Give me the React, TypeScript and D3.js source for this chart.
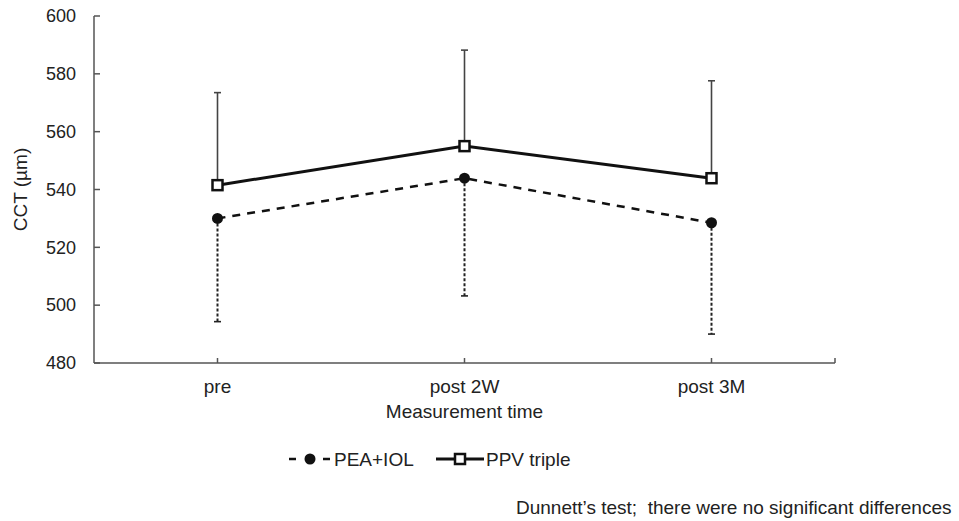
import React, { useEffect, useRef } from 'react'
import * as d3 from 'd3'

const categories = ['pre', 'post 2W', 'post 3M']
const peaMean = [530.0, 543.9, 528.5]
const peaSD = [35.7, 40.7, 38.5]
const ppvMean = [541.5, 555.0, 543.9]
const ppvSD = [32.0, 33.2, 33.7]
const yTicks = [480, 500, 520, 540, 560, 580, 600]

const width = 959
const height = 521
const font = '"Liberation Sans", Arial, sans-serif'
const textColor = '#222'

const App = () => {
  const ref = useRef<SVGSVGElement>(null)

  useEffect(() => {
    const svg = d3.select(ref.current)
    svg.selectAll('*').remove()

    const left = 94
    const right = 835
    const top = 16
    const bottom = 363

    // scales
    const xScale = d3.scaleBand().domain(categories).range([left, right])
    const cx = (i: number) => (xScale(categories[i]) as number) + xScale.bandwidth() / 2
    const yScale = d3.scaleLinear().domain([480, 600]).range([bottom, top])

    // y axis
    svg
      .append('line')
      .attr('x1', left)
      .attr('x2', left)
      .attr('y1', top)
      .attr('y2', bottom)
      .attr('stroke', '#555')
      .attr('stroke-width', 1.5)

    const yAxis = svg.append('g')
    yAxis
      .selectAll('line')
      .data(yTicks)
      .enter()
      .append('line')
      .attr('x1', left)
      .attr('x2', left + 6)
      .attr('y1', (d) => yScale(d))
      .attr('y2', (d) => yScale(d))
      .attr('stroke', '#555')
      .attr('stroke-width', 1.5)
    yAxis
      .selectAll('text')
      .data(yTicks)
      .enter()
      .append('text')
      .text((d) => d)
      .attr('x', 76)
      .attr('y', (d) => yScale(d))
      .attr('dy', '0.35em')
      .attr('text-anchor', 'end')
      .attr('font-family', font)
      .attr('font-size', 18)
      .attr('fill', textColor)

    // x axis
    svg
      .append('line')
      .attr('x1', left)
      .attr('x2', right)
      .attr('y1', bottom)
      .attr('y2', bottom)
      .attr('stroke', '#555')
      .attr('stroke-width', 1.5)

    const xTickPos = [...categories.map((c, i) => cx(i)), right]
    svg
      .append('g')
      .selectAll('line')
      .data(xTickPos)
      .enter()
      .append('line')
      .attr('x1', (d) => d)
      .attr('x2', (d) => d)
      .attr('y1', bottom)
      .attr('y2', bottom - 5)
      .attr('stroke', '#555')
      .attr('stroke-width', 1.5)

    svg
      .append('g')
      .selectAll('text')
      .data(categories)
      .enter()
      .append('text')
      .text((d) => d)
      .attr('x', (d, i) => cx(i))
      .attr('y', 393)
      .attr('text-anchor', 'middle')
      .attr('font-family', font)
      .attr('font-size', 19)
      .attr('fill', textColor)

    // axis titles
    svg
      .append('text')
      .text('Measurement time')
      .attr('x', (left + right) / 2)
      .attr('y', 418)
      .attr('text-anchor', 'middle')
      .attr('font-family', font)
      .attr('font-size', 19)
      .attr('fill', textColor)

    svg
      .append('text')
      .text('CCT (µm)')
      .attr('transform', `translate(27, ${(top + bottom) / 2}) rotate(-90)`)
      .attr('text-anchor', 'middle')
      .attr('font-family', font)
      .attr('font-size', 19)
      .attr('fill', textColor)

    // error bars
    const errorBars = (mean: number[], sd: number[], dir: number, dash: string | null, color: string) => {
      const g = svg.append('g')
      mean.forEach((m, i) => {
        const y0 = yScale(m)
        const y1 = yScale(m + dir * sd[i])
        g.append('line')
          .attr('x1', cx(i))
          .attr('x2', cx(i))
          .attr('y1', y0)
          .attr('y2', y1)
          .attr('stroke', color)
          .attr('stroke-width', dash ? 2 : 1.6)
          .attr('stroke-dasharray', dash)
        g.append('line')
          .attr('x1', cx(i) - 3.5)
          .attr('x2', cx(i) + 3.5)
          .attr('y1', y1)
          .attr('y2', y1)
          .attr('stroke', color)
          .attr('stroke-width', 1.6)
      })
    }
    errorBars(ppvMean, ppvSD, 1, null, '#444')
    errorBars(peaMean, peaSD, -1, '3,2', '#222')

    // lines
    const line = d3
      .line<number>()
      .x((d, i) => cx(i))
      .y((d) => yScale(d))

    svg
      .append('path')
      .datum(peaMean)
      .attr('d', line)
      .attr('fill', 'none')
      .attr('stroke', '#111')
      .attr('stroke-width', 2.5)
      .attr('stroke-dasharray', '8,7')

    svg
      .append('path')
      .datum(ppvMean)
      .attr('d', line)
      .attr('fill', 'none')
      .attr('stroke', '#111')
      .attr('stroke-width', 3)

    // markers
    svg
      .append('g')
      .selectAll('circle')
      .data(peaMean)
      .enter()
      .append('circle')
      .attr('cx', (d, i) => cx(i))
      .attr('cy', (d) => yScale(d))
      .attr('r', 5.5)
      .attr('fill', '#111')

    const sq = 10
    svg
      .append('g')
      .selectAll('rect')
      .data(ppvMean)
      .enter()
      .append('rect')
      .attr('x', (d, i) => cx(i) - sq / 2)
      .attr('y', (d) => yScale(d) - sq / 2)
      .attr('width', sq)
      .attr('height', sq)
      .attr('fill', 'white')
      .attr('stroke', '#111')
      .attr('stroke-width', 2.5)

    // legend
    const ly = 459
    const legend = svg.append('g')
    legend
      .append('line')
      .attr('x1', 289)
      .attr('x2', 331)
      .attr('y1', ly)
      .attr('y2', ly)
      .attr('stroke', '#111')
      .attr('stroke-width', 2.5)
      .attr('stroke-dasharray', '7,27')
    legend.append('circle').attr('cx', 310).attr('cy', ly).attr('r', 5.5).attr('fill', '#111')
    legend
      .append('text')
      .text('PEA+IOL')
      .attr('x', 334)
      .attr('y', ly + 7)
      .attr('font-family', font)
      .attr('font-size', 19)
      .attr('fill', textColor)

    legend
      .append('line')
      .attr('x1', 436)
      .attr('x2', 484)
      .attr('y1', ly)
      .attr('y2', ly)
      .attr('stroke', '#111')
      .attr('stroke-width', 3)
    legend
      .append('rect')
      .attr('x', 460 - sq / 2)
      .attr('y', ly - sq / 2)
      .attr('width', sq)
      .attr('height', sq)
      .attr('fill', 'white')
      .attr('stroke', '#111')
      .attr('stroke-width', 2.5)
    legend
      .append('text')
      .text('PPV triple')
      .attr('x', 486)
      .attr('y', ly + 7)
      .attr('font-family', font)
      .attr('font-size', 19)
      .attr('fill', textColor)

    // footnote
    svg
      .append('text')
      .text('Dunnett\u2019s test;\u00a0\u00a0there were no significant differences')
      .attr('x', 516)
      .attr('y', 514)
      .attr('font-family', font)
      .attr('font-size', 19)
      .attr('fill', textColor)
  }, [])

  return (
    <svg
      ref={ref}
      width={width}
      height={height}
      style={{ position: 'absolute', left: 0, top: 0, background: 'white' }}
    />
  )
}

export default App
